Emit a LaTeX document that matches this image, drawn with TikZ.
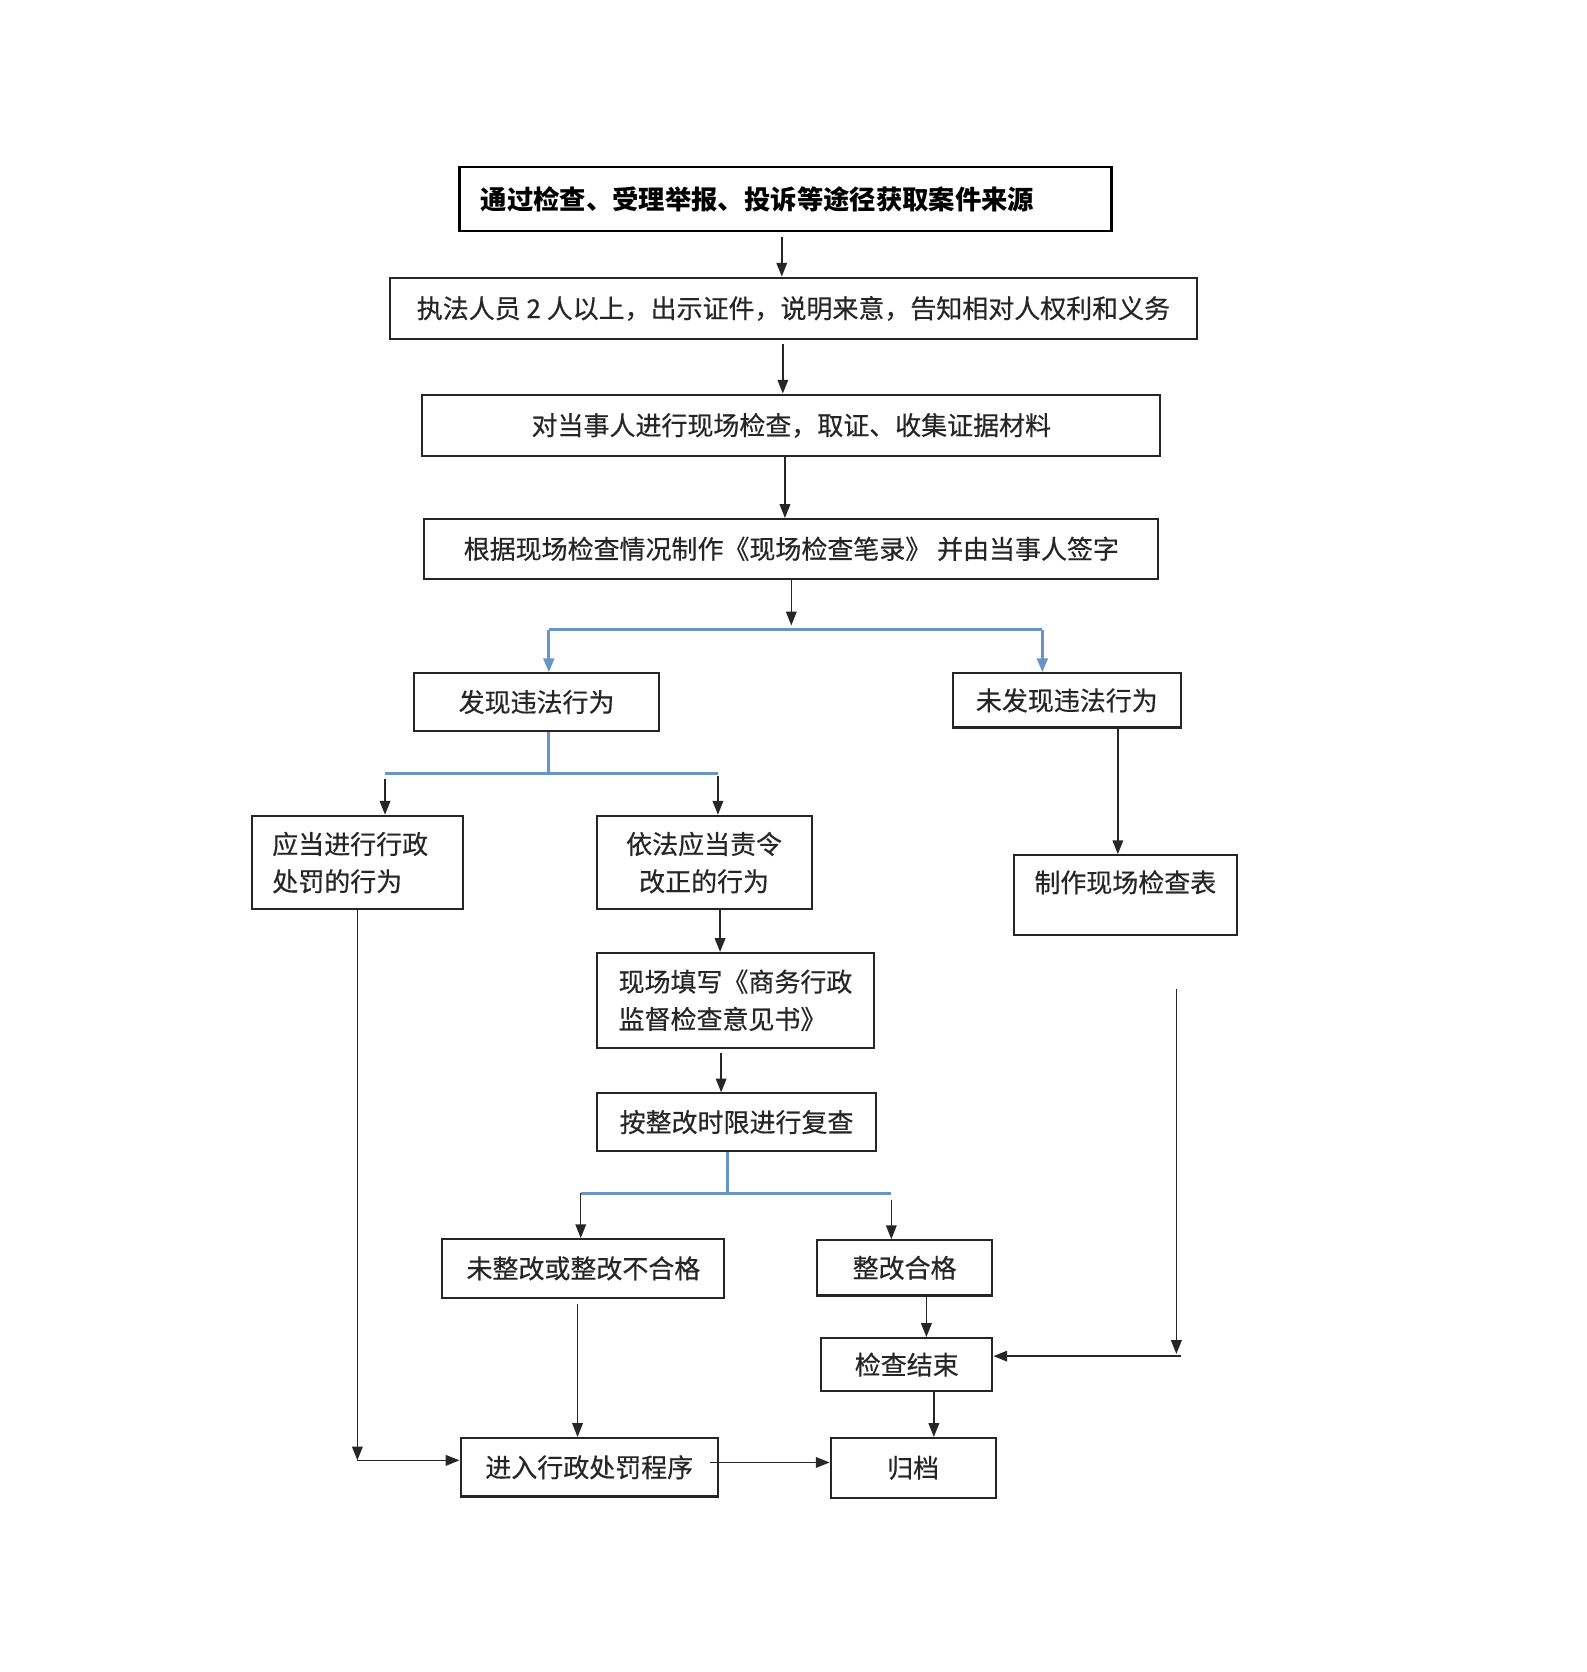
\documentclass[tikz,border=0pt]{standalone}
\usepackage{fontspec}
\newfontfamily\cjk{Noto Sans CJK SC}[FakeBold=0.5]
\newfontfamily\cjktitle{Noto Sans CJK SC}
\usetikzlibrary{arrows.meta}
\definecolor{linkblue}{RGB}{104,148,200}

\begin{document}
\begin{tikzpicture}[x=0.02cm, y=-0.02cm,
  box/.style={draw=black!85, line width=1.1pt, align=center, text=black!85,
    font=\cjk\fontsize{13.9}{20}\selectfont},
  boxsize/.style 2 args={minimum width=#1*0.02cm, minimum height=#2*0.02cm},
  arr/.style={-{Triangle[length=0.26cm, width=0.2cm]}, line width=0.8pt, black!85},
  branch/.style={linkblue, line width=1.5pt},
  barr/.style={branch, -{Triangle[length=0.26cm, width=0.2cm]}}]
  \useasboundingbox (0,0) rectangle (1492,1572);

  \node[box, boxsize={613}{60}, text width=11.46cm, align=left, text=black, draw=black,
    font=\cjktitle\bfseries\fontsize{14.1}{20}\selectfont] (source) at (738.5,187)
    {通过检查、受理举报、投诉等途径获取案件来源};
  \node[box, boxsize={758}{58}] (team) at (746,290)
    {执法人员 2 人以上，出示证件，说明来意，告知相对人权利和义务};
  \node[box, boxsize={694}{58}] (collect) at (744,400)
    {对当事人进行现场检查，取证、收集证据材料};
  \node[box, boxsize={690}{56}] (record) at (744,516)
    {根据现场检查情况制作《现场检查笔录》 并由当事人签字};
  \node[box, boxsize={231}{54}] (found) at (504.5,660) {发现违法行为};
  \node[box, boxsize={214}{51}] (notfound) at (1003,658.5) {未发现违法行为};
  \node[box, boxsize={198}{88}, text width=3.2cm, align=left] (punish) at (336,811)
    {应当进行行政\\处罚的行为};
  \node[box, boxsize={202}{88}] (correct) at (662,811) {依法应当责令\\改正的行为};
  \node[box, boxsize={210}{75}, text depth=0.52cm] (sheet) at (1058,841.5) {制作现场检查表};
  \node[box, boxsize={261}{89}, align=left] (opinion) at (691.5,940.5)
    {现场填写《商务行政\\监督检查意见书》};
  \node[box, boxsize={263}{54}] (recheck) at (692.5,1055) {按整改时限进行复查};
  \node[box, boxsize={265}{55}] (fail) at (548.5,1192.5) {未整改或整改不合格};
  \node[box, boxsize={165}{52}] (pass) at (850.5,1192) {整改合格};
  \node[box, boxsize={161}{50}] (finish) at (852.5,1283) {检查结束};
  \node[box, boxsize={242}{55}] (penalty) at (554,1379.5) {进入行政处罚程序};
  \node[box, boxsize={155}{56}] (archive) at (858.5,1380) {归档};

  \coordinate (fork1) at (744,588);
  \coordinate (split1l) at (516,592);
  \coordinate (split1r) at (980,592);
  \coordinate (split2) at (516,727);
  \coordinate (split2l) at (362,727);
  \coordinate (split2r) at (675,727);
  \coordinate (split3) at (684,1122);
  \coordinate (split3l) at (546,1122);
  \coordinate (split3r) at (838,1122);
  \coordinate (corner) at (336,1373);
  \coordinate (loose) at (1106,930);
  \coordinate (loosend) at (1106,1273);
  \coordinate (turn) at (1110,1275);

  \draw[arr, shorten <=0.1cm] (source.south -| 735,0) -- (team.north -| 735,0);
  \draw[arr, shorten <=0.06cm] (team.south -| 736,0) -- (collect.north -| 736,0);
  \draw[arr] (collect.south -| 738,0) -- (record.north -| 738,0);
  \draw[arr] (record.south -| fork1) -- (fork1);
  \draw[branch] (split1l) -- (split1r);
  \draw[barr] (split1l) -- (found.north -| split1l);
  \draw[barr] (split1r) -- (notfound.north -| split1r);
  \draw[branch] (found.south -| split2) -- (split2);
  \draw[branch] (split2l) -- (split2r);
  \draw[arr, shorten <=0.1cm] (split2l) -- (punish.north -| split2l);
  \draw[arr, shorten <=0.06cm] (split2r) -- (correct.north -| split2r);
  \draw[arr] (notfound.south -| 1051,0) -- (sheet.north -| 1051,0);
  \draw[arr] (correct.south -| 677,0) -- (opinion.north -| 677,0);
  \draw[arr, shorten <=0.08cm] (opinion.south -| 678,0) -- (recheck.north -| 678,0);
  \draw[branch] (recheck.south -| split3) -- (split3);
  \draw[branch] (split3l) -- (split3r);
  \draw[arr] (split3l) -- (fail.north -| split3l);
  \draw[arr, shorten <=0.12cm] (split3r) -- (pass.north -| split3r);
  \draw[arr, shorten <=0.1cm] (fail.south -| 543,0) -- (penalty.north -| 543,0);
  \draw[arr] (pass.south -| 871,0) -- (finish.north -| 871,0);
  \draw[arr] (finish.south -| 878,0) -- (archive.north -| 878,0);
  \draw[arr] (punish.south) -- (corner);
  \draw[arr] (corner) -- (penalty.west |- corner);
  \draw[arr, shorten <=-0.16cm] (penalty.east |- 0,1375) -- (archive.west |- 0,1375);
  \draw[arr] (loose) -- (loosend);
  \draw[arr] (turn) -- (finish.east |- turn);
\end{tikzpicture}
\end{document}
